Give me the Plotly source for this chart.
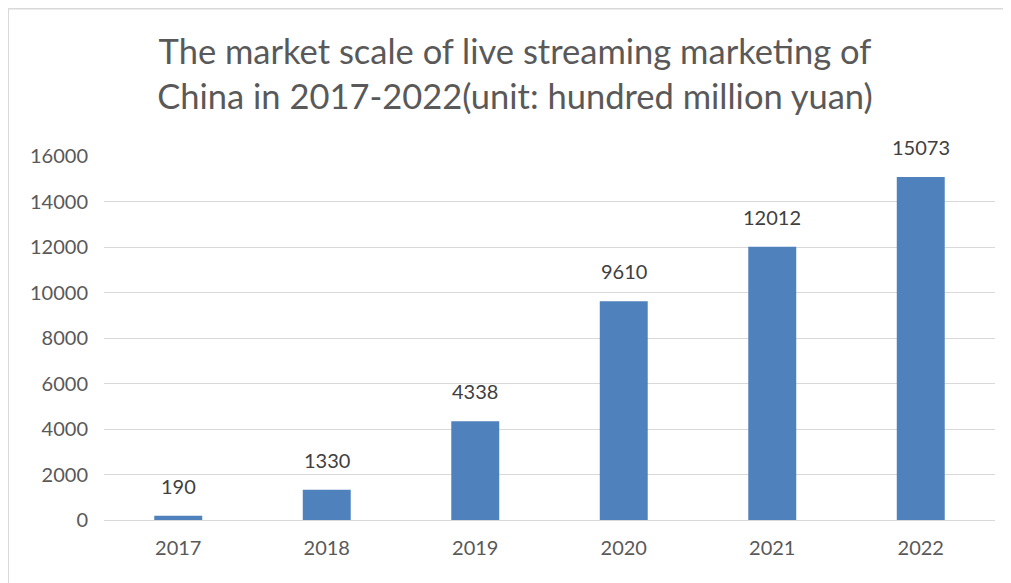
import plotly.graph_objects as go

years = ["2017", "2018", "2019", "2020", "2021", "2022"]
values = [190, 1330, 4338, 9610, 12012, 15073]
y_ticks = [0, 2000, 4000, 6000, 8000, 10000, 12000, 14000, 16000]

# page body has an 8px margin; figure is sized so that it sits inside the window
W, H = 1003, 575
L, R, T, B = 96, 16, 148, 63
pw, ph = W - L - R, H - T - B
FONT = "Lato, Carlito, sans-serif"

fig = go.Figure(go.Bar(
    x=years, y=values,
    marker=dict(color="#4F81BD", line=dict(width=0)),
    hoverinfo="x+y",
))

# value labels above bars (category index positions on the category axis)
for i, v in enumerate(values):
    fig.add_annotation(
        x=i, y=v, xref="x", yref="y", text=str(v), showarrow=False,
        yanchor="bottom", yshift=16,
        font=dict(family=FONT, size=20, color="#404040"),
    )

fig.update_layout(
    width=W, height=H,
    margin=dict(l=L, r=R, t=T, b=B),
    paper_bgcolor="white", plot_bgcolor="white",
    bargap=0.677,
    showlegend=False,
    title=dict(
        text="The market scale of live streaming marketing of<br>China in 2017-2022(unit: hundred million yuan)",
        x=507 / W, xanchor="center", xref="container",
        y=1 - 56 / H, yanchor="middle", yref="container",
        font=dict(family=FONT, size=34.5, color="#595959"),
    ),
    xaxis=dict(
        type="category", categoryorder="array", categoryarray=years,
        range=[-0.5, len(years) - 0.5], autorange=False,
        showgrid=False, showline=True, linecolor="#D9D9D9", linewidth=1,
        ticks="", ticklabelstandoff=10,
        tickfont=dict(family=FONT, size=20, color="#595959"),
    ),
    yaxis=dict(
        range=[0, 16000], autorange=False, tickvals=y_ticks, ticktext=[str(v) for v in y_ticks],
        showgrid=True, gridcolor="#D9D9D9", gridwidth=1, zeroline=False,
        showline=False, ticks="", ticklabelstandoff=15,
        tickfont=dict(family=FONT, size=20, color="#595959"),
    ),
)

fig.add_shape(
    type="rect", xref="paper", yref="paper",
    x0=(0 - L) / pw, x1=(W + 20 - L) / pw,
    y0=-(H + 20 - T - ph) / ph, y1=1 + (T - 0.5) / ph,
    line=dict(color="#D9D9D9", width=2), fillcolor="rgba(0,0,0,0)", layer="below",
)

fig.write_html("out.html")
